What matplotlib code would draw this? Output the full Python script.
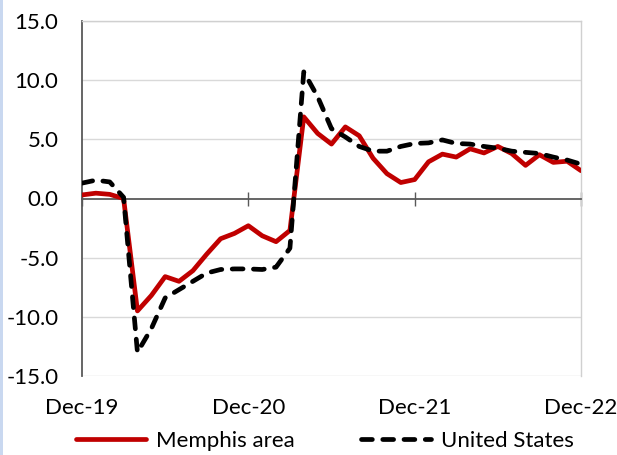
import matplotlib
matplotlib.use("Agg")
import matplotlib.pyplot as plt
import matplotlib.transforms as mtransforms
from matplotlib.patches import Rectangle
import numpy as np

months = list(range(37))  # Dec-19 .. Dec-22, monthly index
tick_pos = [0, 12, 24, 36]
tick_labels = ["Dec-19", "Dec-20", "Dec-21", "Dec-22"]

memphis = [0.3, 0.45, 0.35, 0.0, -9.5, -8.2, -6.6, -7.0, -6.1, -4.7, -3.4, -2.95, -2.3,
           -3.15, -3.65, -2.7, 6.9, 5.5, 4.6, 6.05, 5.3, 3.4, 2.1, 1.35, 1.6,
           3.1, 3.75, 3.5, 4.2, 3.85, 4.4, 3.8, 2.8, 3.7, 3.05, 3.15, 2.35]
us = [1.3, 1.55, 1.4, 0.1, -13.0, -11.0, -8.4, -7.7, -7.0, -6.3, -6.0, -5.95, -5.95,
      -6.0, -5.8, -4.2, 10.7, 8.6, 5.9, 5.2, 4.4, 4.0, 4.0, 4.4, 4.65,
      4.7, 4.95, 4.65, 4.6, 4.4, 4.25, 4.0, 3.9, 3.8, 3.5, 3.25, 2.9]

series_names = ["Memphis area", "United States"]
y_ticks = [-15, -10, -5, 0, 5, 10, 15]

plt.rcParams['font.family'] = ['Lato', 'DejaVu Sans']
FS = 16

fig = plt.figure(figsize=(6.17, 4.55), dpi=100)
ax = fig.add_axes([82/617, 1-376/455, (581-82)/617, (376-21)/455])

fig.patches.append(Rectangle((0, 0), 3/617, 1, transform=fig.transFigure,
                             facecolor="#c9d8f0", edgecolor="none", zorder=0))

ax.set_xlim(0, 36)
ax.set_ylim(-15, 15)

for yv in y_ticks:
    if yv != 0:
        ax.axhline(yv, color="#d9d9d9", lw=1.0, zorder=0)

ax.plot(months, memphis, color="#C00000", lw=3.4, solid_capstyle="round",
        solid_joinstyle="round", label=series_names[0], zorder=3)
ax.plot(months, us, color="black", lw=3.4, dashes=(2.3, 2.2), dash_capstyle="round",
        dash_joinstyle="round", label=series_names[1], zorder=4)

for s in ["top", "right"]:
    ax.spines[s].set_color("#d0d0d0")
    ax.spines[s].set_linewidth(1.0)
ax.spines["left"].set_color("#595959")
ax.spines["left"].set_linewidth(1.3)
ax.spines["bottom"].set_position(("data", 0))
ax.spines["bottom"].set_color("#595959")
ax.spines["bottom"].set_linewidth(1.3)

ax.set_yticks(y_ticks)
ax.set_yticklabels([f"{v:.1f}" for v in y_ticks])
ax.tick_params(axis="y", length=0, pad=17, labelsize=FS, labelcolor="black")

ax.set_xticks(tick_pos)
ax.tick_params(axis="x", direction="inout", length=10, width=1.0, color="#595959",
               labelbottom=False)

trans = mtransforms.blended_transform_factory(ax.transData, ax.transAxes)
for p, lab in zip(tick_pos, tick_labels):
    ax.text(p, -0.09, lab, transform=trans, ha="center", va="center",
            fontsize=FS, color="black", clip_on=False)

fig.legend(loc="center", bbox_to_anchor=(0.527, 1-441/455), ncol=2, frameon=False,
           fontsize=FS, handlelength=3.15, handletextpad=0.45, columnspacing=3.0,
           borderpad=0.2)

fig.savefig("out.png", dpi=100)
